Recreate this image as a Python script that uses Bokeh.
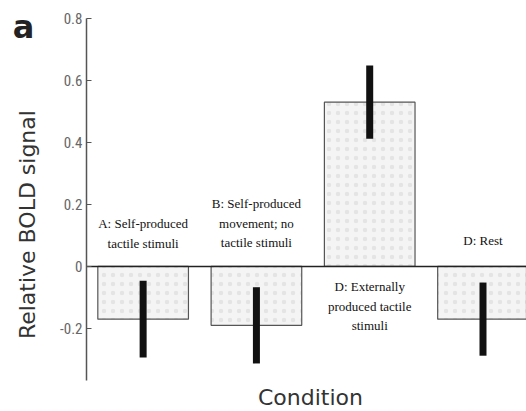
import math
from bokeh.plotting import figure
from bokeh.models import LinearAxis, FixedTicker, ColumnDataSource, Range1d
from bokeh.core.properties import value
from bokeh.embed import file_html
from bokeh.resources import INLINE

# ---- data ----
conditions = ["A: Self-produced\ntactile stimuli",
              "B: Self-produced\nmovement; no\ntactile stimuli",
              "D: Externally\nproduced tactile\nstimuli",
              "D: Rest"]
bold_signal = [-0.17, -0.19, 0.53, -0.17]
bold_error = [0.124, 0.123, 0.118, 0.118]
y_ticks = [-0.2, 0, 0.2, 0.4, 0.6, 0.8]
y_tick_labels = ["-0.2", "0", "0.2", "0.4", "0.6", "0.8"]
y_label = "Relative BOLD signal"
x_label = "Condition"
panel_letter = "a"

# ---- layout ----
X0, X1 = -0.759, 3.884          # frame spans the whole canvas
Y0, Y1 = -0.468, 0.858
AXIS_BOUNDS = (-0.368, 0.8)
xpos = [i + 0.5 for i in range(len(conditions))]
label_y = [0.106, 0.139, -0.129, 0.084]
lower = [v - e for v, e in zip(bold_signal, bold_error)]
upper = [v + e for v, e in zip(bold_signal, bold_error)]

src = ColumnDataSource(dict(x=xpos, top=bold_signal, lo=lower, hi=upper,
                            lab=conditions, ly=label_y))

p = figure(width=526, height=411, output_backend="svg", toolbar_location=None,
           x_range=Range1d(X0, X1), y_range=Range1d(Y0, Y1),
           x_axis_location=None, y_axis_location=None,
           min_border_left=0, min_border_right=0,
           min_border_top=0, min_border_bottom=0)
p.outline_line_color = None
p.grid.visible = False
p.background_fill_color = "white"
p.border_fill_color = "white"

p.vbar(x="x", top="top", bottom=0, width=0.8, source=src,
       fill_color="#f4f4f4", line_color="#555555", line_width=1.2,
       hatch_pattern="dot", hatch_color="#d8d8d8", hatch_alpha=0.6,
       hatch_scale=9, hatch_weight=1)

p.segment(x0="x", y0="lo", x1="x", y1="hi", source=src,
          line_color="#111111", line_width=7, line_cap="butt")

# zero baseline from the axis to the right edge
p.segment(x0=[0], y0=[0], x1=[X1], y1=[0], line_color="#222222", line_width=1.6)

p.text(x="x", y="ly", text="lab", source=src, text_align="center",
       text_baseline="middle", text_font=value("Liberation Serif"),
       text_font_size="13px", text_color="#111111", text_line_height=1.3)

ax = LinearAxis(fixed_location=0, bounds=AXIS_BOUNDS)
ax.ticker = FixedTicker(ticks=y_ticks)
ax.major_label_overrides = {t: l for t, l in zip(y_ticks, y_tick_labels)}
ax.major_label_text_font = "'Liberation Sans Narrow', 'Roboto Condensed', 'Liberation Sans', sans-serif"
ax.major_label_text_font_size = "15px"
ax.major_label_text_color = "#666666"
ax.major_label_standoff = 4
ax.major_tick_in = 5
ax.major_tick_out = 0
ax.minor_tick_in = 0
ax.minor_tick_out = 0
ax.axis_line_color = "#555555"
ax.axis_line_width = 1.5
ax.major_tick_line_color = "#555555"
p.add_layout(ax, "left")

p.text(x=[-0.521], y=[0.135], text=[y_label], angle=math.pi / 2,
       text_align="center", text_baseline="middle",
       text_font=value("DejaVu Sans"), text_font_size="22px", text_color="#333333")
p.text(x=[1.977], y=[-0.423], text=[x_label],
       text_align="center", text_baseline="middle",
       text_font=value("DejaVu Sans"), text_font_size="22px", text_color="#333333")
p.text(x=[-0.556], y=[0.774], text=[panel_letter],
       text_align="center", text_baseline="middle",
       text_font=value("DejaVu Sans"), text_font_style="bold",
       text_font_size="32px", text_color="#222222")

open("out.html", "w").write(file_html(p, INLINE))
